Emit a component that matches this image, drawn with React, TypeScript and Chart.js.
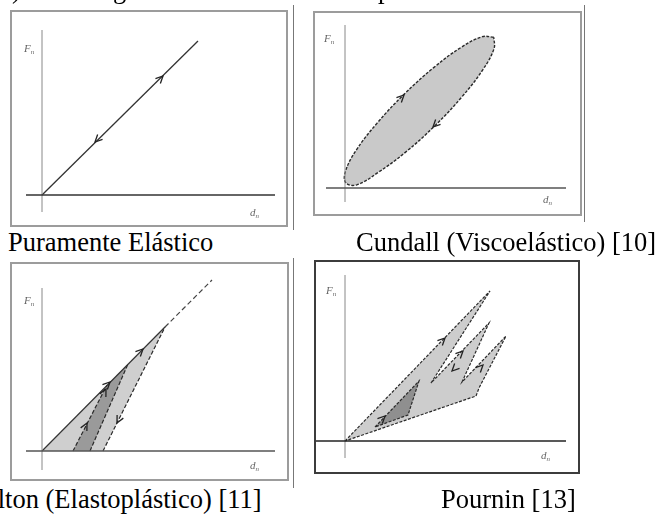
import React, { useEffect, useRef } from "react";
import { Chart, registerables } from "chart.js";
Chart.register(...registerables);

// ---------- data (arbitrary units: d_n right, F_n up, origin at 0,0) ----------
// Panel 1: purely elastic
const elasticLoad = [[0, 0], [156, 154]];
const elasticArrows = [[121, 119, 1, 1], [53, 53, -1, -1]];

// Panel 2: Cundall viscoelastic loop
const cundallLoop = [
  [148.8, 150.8], [137.2, 151.3], [116.1, 140.6], [88.7, 120.4], [59.1, 93.7],
  [31.9, 64.6], [11.1, 37.6], [0.5, 16.7], [0.8, 5.2], [11.8, 3.2],
  [32.9, 15.4], [60.3, 35.6], [89.9, 62.3], [117.1, 91.4], [137.9, 118.4],
  [149, 139.3], [148.8, 150.8],
];
const cundallArrows = [[59, 93, 1, 1], [88, 61, -1, -1]];

// Panel 3: Walton elastoplastic
const waltonLoad = [[0, 0], [123, 124]];
const waltonExtension = [[123, 124], [170, 171]];
const waltonUnloadA = [[31, 0], [65, 66]];
const waltonUnloadB = [[48, 0], [86, 87]];
const waltonUnloadC = [[61, 0], [123, 124]];
const waltonLight = [[0, 0], [123, 124], [61, 0], [0, 0]];
const waltonDark = [[31, 0], [65, 66], [86, 87], [48, 0], [31, 0]];
const waltonArrows = [[68, 69, 1, 1], [101, 102, 1, 1], [45, 28, 1, 2], [64, 62, 1, 2], [75, 28, -1, -2]];

// Panel 4: Pournin
const pourninOutline = [
  [0, 0], [145, 150], [86, 58], [144, 118], [117, 59], [161, 105],
  [134, 53], [131, 45], [0, 0],
];
const pourninDark = [[30, 14], [74, 60], [63, 26], [30, 14]];
const pourninArrows = [[100, 103, 1, 1], [40, 25, 1, 1], [118, 90, 1, 1], [138, 76, 1, 1], [107, 70, -1, -1]];

// axes extents
const axisP1 = { x: [-16, 233], y: [-17, 165] };
const axisP2 = { x: [-19, 221], y: [-14, 163] };
const axisP3 = { x: [-16, 233], y: [-19, 163] };
const axisP4 = { x: [-30, 221], y: [-17, 166] };

const labelsP1 = [["F", "n", -18, 143], ["d", "n", 208, -21]];
const labelsP2 = [["F", "n", -21, 146], ["d", "n", 198, -15]];
const labelsP3 = [["F", "n", -18, 147], ["d", "n", 208, -18]];
const labelsP4 = [["F", "n", -19, 147], ["d", "n", 196, -18]];

const captions = [
  { text: "Puramente Elástico", x: 8, base: 251 },
  { text: "Cundall (Viscoelástico) [10]", x: 356, base: 251 },
  { text: "Walton (Elastoplástico) [11]", x: -37, base: 508 },
  { text: "Pournin [13]", x: 441, base: 508 },
];

// ---------- helpers ----------
const P = (a: number[][]) => a.map(([x, y]) => ({ x, y }));

const decoPlugin = {
  id: "deco",
  afterDatasetsDraw(chart: any, _a: any, opts: any) {
    const ctx = chart.ctx;
    const sx = chart.scales.x;
    const sy = chart.scales.y;
    ctx.save();
    (opts.arrows || []).forEach(([ax, ay, dx, dy]: number[]) => {
      const px = sx.getPixelForValue(ax);
      const py = sy.getPixelForValue(ay);
      const ang = Math.atan2(-dy, dx);
      const L = 8;
      ctx.strokeStyle = "#222";
      ctx.lineWidth = 1.3;
      ctx.beginPath();
      ctx.moveTo(px - L * Math.cos(ang - 0.45), py - L * Math.sin(ang - 0.45));
      ctx.lineTo(px, py);
      ctx.lineTo(px - L * Math.cos(ang + 0.45), py - L * Math.sin(ang + 0.45));
      ctx.stroke();
    });
    (opts.labels || []).forEach(([t, s, lx, ly]: any[]) => {
      const px = sx.getPixelForValue(lx);
      const py = sy.getPixelForValue(ly);
      ctx.fillStyle = "#666";
      ctx.font = "italic 11px 'Liberation Serif'";
      ctx.textBaseline = "alphabetic";
      ctx.fillText(t, px, py);
      const w = ctx.measureText(t).width;
      ctx.font = "italic 7px 'Liberation Serif'";
      ctx.fillText(s, px + w, py + 2);
    });
    ctx.restore();
  },
};

function lineDS(data: number[][], opts: any = {}) {
  return {
    data: P(data),
    showLine: true,
    pointRadius: 0,
    borderColor: "#2a2a2a",
    borderWidth: 1.2,
    fill: false,
    tension: 0,
    order: 1,
    ...opts,
  };
}
function axesDS(ax: { x: number[]; y: number[] }, xColor = "#333", yColor = "#888") {
  return [
    lineDS([[ax.x[0], 0], [ax.x[1], 0]], { borderColor: xColor, borderWidth: 1.6, order: 0 }),
    lineDS([[0, ax.y[0]], [0, ax.y[1]]], { borderColor: yColor, borderWidth: 1, order: 0 }),
  ];
}
function polyDS(data: number[][], color: string, order = 5) {
  return lineDS(data, { backgroundColor: color, borderWidth: 0, borderColor: "rgba(0,0,0,0)", fill: "shape", order });
}

type PanelDef = {
  box: { l: number; t: number; w: number; h: number };
  origin: { x: number; y: number };
  datasets: any[];
  arrows: number[][];
  labels: any[];
  frame: string;
};

const panels: PanelDef[] = [
  {
    box: { l: 11, t: 11, w: 276, h: 215 },
    origin: { x: 42, y: 195 },
    datasets: [...axesDS(axisP1), lineDS(elasticLoad, { borderColor: "#333", borderWidth: 1.3 })],
    arrows: elasticArrows,
    labels: labelsP1,
    frame: "2px solid #9c9c9c",
  },
  {
    box: { l: 314, t: 12, w: 267, h: 203 },
    origin: { x: 345, y: 188 },
    datasets: [
      ...axesDS(axisP2, "#555", "#888"),
      lineDS(cundallLoop, { backgroundColor: "#c9c9c9", fill: "shape", tension: 0.4, borderDash: [3, 1.5], order: 3, borderWidth: 1.4 }),
    ],
    arrows: cundallArrows,
    labels: labelsP2,
    frame: "2px solid #9c9c9c",
  },
  {
    box: { l: 11, t: 263, w: 277, h: 217 },
    origin: { x: 42, y: 451 },
    datasets: [
      ...axesDS(axisP3, "#555", "#888"),
      polyDS(waltonLight, "#cfcfcf", 6),
      polyDS(waltonDark, "#9a9a9a", 5),
      lineDS(waltonLoad, { borderColor: "#333" }),
      lineDS(waltonExtension, { borderDash: [5, 3], borderColor: "#444" }),
      lineDS(waltonUnloadA, { borderDash: [4, 2] }),
      lineDS(waltonUnloadB, { borderDash: [4, 2] }),
      lineDS(waltonUnloadC, { borderDash: [4, 2] }),
    ],
    arrows: waltonArrows,
    labels: labelsP3,
    frame: "2px solid #9c9c9c",
  },
  {
    box: { l: 315, t: 261, w: 264, h: 212 },
    origin: { x: 345, y: 441 },
    datasets: [
      ...axesDS(axisP4, "#222", "#888"),
      lineDS(pourninOutline, { backgroundColor: "#cdcdcd", fill: "shape", borderDash: [3, 1.5], order: 4 }),
      polyDS(pourninDark, "#8f8f8f", 3),
      lineDS(pourninDark, { borderDash: [3, 1.5], order: 2 }),
    ],
    arrows: pourninArrows,
    labels: labelsP4,
    frame: "2px solid #3c3c3c",
  },
];

function Panel({ def }: { def: PanelDef }) {
  const ref = useRef<HTMLCanvasElement>(null);
  useEffect(() => {
    const { box, origin } = def;
    const chart = new Chart(ref.current!, {
      type: "scatter",
      data: { datasets: def.datasets },
      options: {
        animation: false,
        responsive: false,
        devicePixelRatio: 1,
        layout: { padding: 0 },
        scales: {
          x: { type: "linear", display: false, min: box.l - origin.x, max: box.l + box.w - origin.x },
          y: { type: "linear", display: false, min: origin.y - (box.t + box.h), max: origin.y - box.t },
        },
        plugins: {
          legend: { display: false },
          tooltip: { enabled: false },
          deco: { arrows: def.arrows, labels: def.labels },
        } as any,
      },
      plugins: [decoPlugin as any],
    });
    return () => chart.destroy();
  }, [def]);
  const { box } = def;
  return (
    <>
      <canvas
        ref={ref}
        width={box.w}
        height={box.h}
        style={{ position: "absolute", left: box.l, top: box.t, width: box.w, height: box.h }}
      />
      <div
        style={{
          position: "absolute",
          left: box.l - 1,
          top: box.t - 1,
          width: box.w + 2,
          height: box.h + 2,
          border: def.frame,
          boxSizing: "border-box",
          pointerEvents: "none",
        }}
      />
    </>
  );
}

const FONT = "'Liberation Serif', 'Times New Roman', serif";
const FS = 26.5;

export default function App() {
  return (
    <div style={{ position: "absolute", left: 0, top: 0, width: 662, height: 516, overflow: "hidden", background: "#fff" }}>
      {panels.map((p, i) => (
        <Panel key={i} def={p} />
      ))}
      {/* table cell dividers */}
      <div style={{ position: "absolute", left: 293, top: 5, width: 1, height: 225, background: "#777" }} />
      <div style={{ position: "absolute", left: 584, top: 5, width: 1, height: 217, background: "#777" }} />
      <div style={{ position: "absolute", left: 293, top: 258, width: 1, height: 230, background: "#777" }} />
      {/* clipped line of text above */}
      {[
        [")", 12],
        ["g", 113],
        ["p", 378],
      ].map(([t, x], i) => (
        <div key={"t" + i} style={{ position: "absolute", left: x as number, top: -2 - 22.2, font: `${FS}px ${FONT}`, lineHeight: 1, whiteSpace: "pre" }}>
          {t}
        </div>
      ))}
      {captions.map((c, i) => (
        <div
          key={i}
          style={{ position: "absolute", left: c.x, top: c.base - 22.2, font: `${FS}px ${FONT}`, lineHeight: 1, whiteSpace: "pre", color: "#000" }}
        >
          {c.text}
        </div>
      ))}
    </div>
  );
}
